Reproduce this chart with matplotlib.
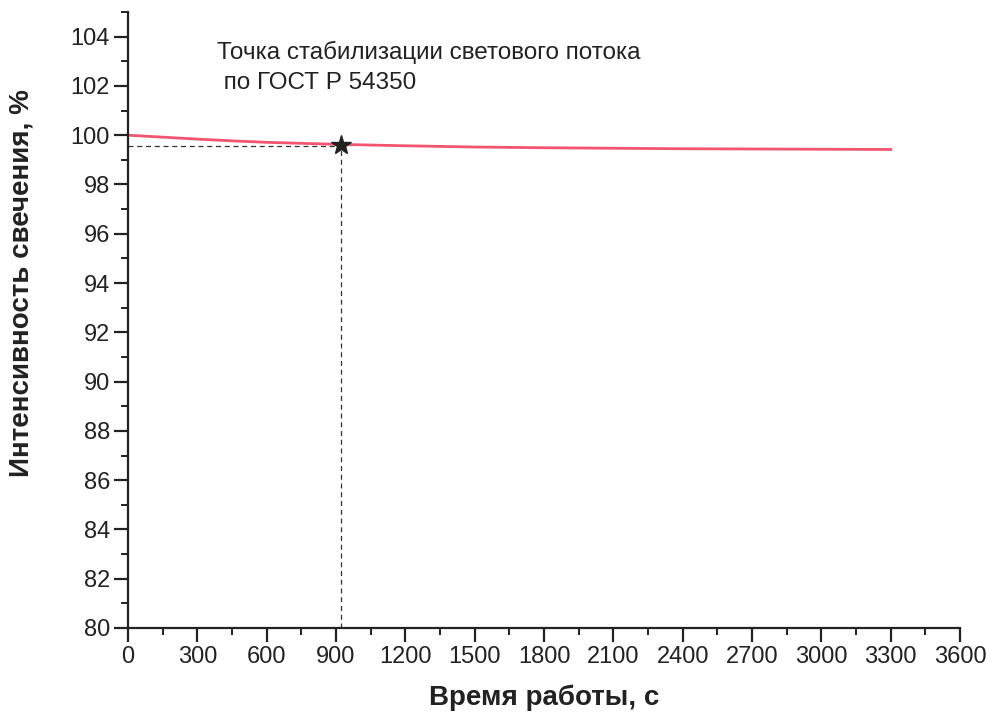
import numpy as np
import matplotlib.pyplot as plt
from matplotlib.ticker import MultipleLocator

plt.rcParams['font.family'] = ['Liberation Sans', 'DejaVu Sans']

# Данные: время работы (с) и интенсивность свечения (%)
time_s = [0, 150, 300, 450, 600, 750, 900, 1200, 1500, 1800, 2100, 2400, 2700, 3000, 3300]
intensity = [100.0, 99.92, 99.84, 99.77, 99.71, 99.67, 99.63, 99.57, 99.52, 99.49, 99.47, 99.45, 99.44, 99.43, 99.42]

# Точка стабилизации
stab_t = 920
stab_i = 99.62
stab_line = 99.55

fig = plt.figure(figsize=(9.94, 7.22), dpi=100)
ax = fig.add_axes([0.1288, 0.1302, 0.8370, 0.8532])

ax.plot(time_s, intensity, color='#f2556f', lw=2.0)
ax.plot([0, stab_t], [stab_line, stab_line], color='#333333', lw=0.9, ls=(0, (4, 3)))
ax.plot([stab_t, stab_t], [80, stab_line], color='#333333', lw=0.9, ls=(0, (4, 3)))
ax.plot(stab_t, stab_i, marker='*', color='#222222', markersize=15, zorder=5)

ax.text(385, 102.75, 'Точка стабилизации светового потока\n по ГОСТ Р 54350',
        fontsize=17.5, color='#222222', va='center', linespacing=1.5)

ax.set_xlim(0, 3600)
ax.set_ylim(80, 105)
ax.xaxis.set_major_locator(MultipleLocator(300))
ax.xaxis.set_minor_locator(MultipleLocator(150))
ax.yaxis.set_minor_locator(MultipleLocator(1))
ax.set_yticks(np.arange(80, 105, 2))

ax.spines['top'].set_visible(False)
ax.spines['right'].set_visible(False)
for s in ['left', 'bottom']:
    ax.spines[s].set_linewidth(1.6)
    ax.spines[s].set_color('#222222')

ax.tick_params(which='major', direction='out', length=10, width=1.6, labelsize=17,
               colors='#222222', pad=3)
ax.tick_params(which='minor', direction='out', length=5, width=1.4, colors='#222222')

ax.set_xlabel('Время работы, с', fontsize=20, fontweight='bold', color='#222222', labelpad=12)
ax.set_ylabel('Интенсивность свечения, %', fontsize=20, fontweight='bold', color='#222222')
ax.yaxis.set_label_coords(-0.112, 0.56)

fig.savefig('out.png', dpi=100)
